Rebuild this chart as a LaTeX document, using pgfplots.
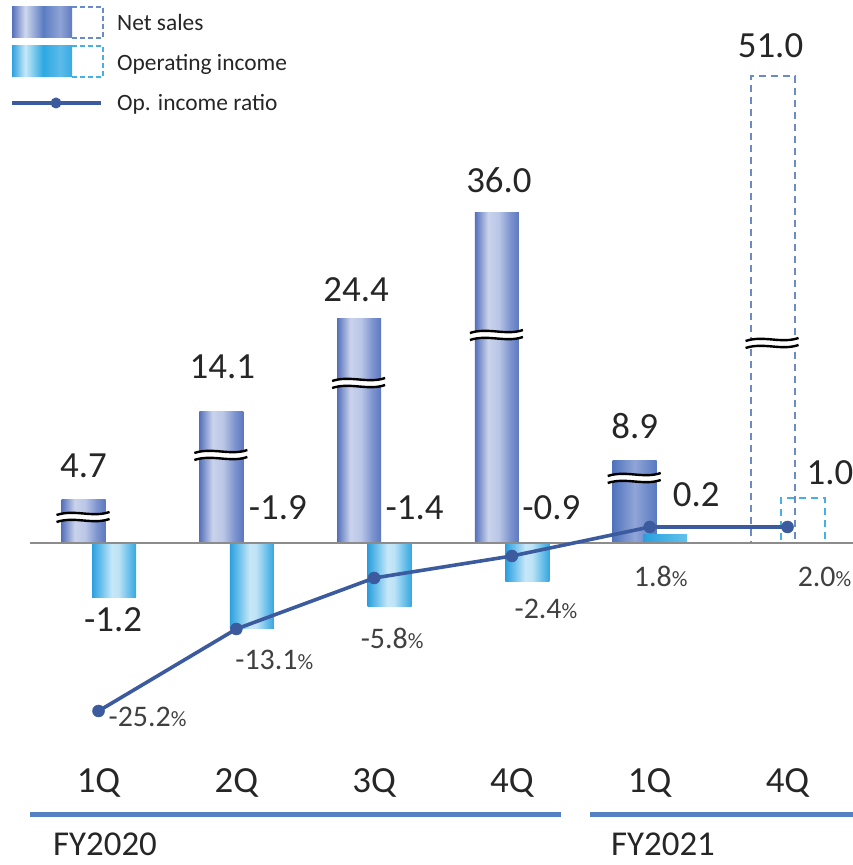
\documentclass[border=0pt]{standalone}
\usepackage{pgfplots}
\pgfplotsset{compat=1.18}
\usepackage{pgfplotstable}
\usepackage{fontspec}
\setmainfont{Carlito}

\definecolor{txt}{HTML}{262626}
\definecolor{rtxt}{HTML}{404040}
\definecolor{lineblue}{HTML}{3B5B9E}
\definecolor{nsdash}{HTML}{6A8BCB}
\definecolor{oidash}{HTML}{45B0E6}
\definecolor{axisgray}{HTML}{8C8C8C}
\definecolor{fyblue}{HTML}{5580C4}
\definecolor{nsa}{HTML}{5571BC}
\definecolor{nsb}{HTML}{CAD3EC}
\definecolor{nsc}{HTML}{BAC6E6}
\definecolor{nsd}{HTML}{7D94CF}
\definecolor{nse}{HTML}{5D78C0}
\definecolor{nsBa}{HTML}{5074BD}
\definecolor{nsBb}{HTML}{90A5D7}
\definecolor{nsBc}{HTML}{5878C0}
\definecolor{oia}{HTML}{2C9FDF}
\definecolor{oib}{HTML}{6BC0EC}
\definecolor{oic}{HTML}{C6E7F8}
\definecolor{oid}{HTML}{BEE3F6}
\definecolor{oie}{HTML}{66BDEA}
\definecolor{oif}{HTML}{35A6E1}
\definecolor{oiBa}{HTML}{29A0DE}
\definecolor{oiBb}{HTML}{62C2EC}
\definecolor{la}{HTML}{5470BC}
\definecolor{lb}{HTML}{CFD8EE}
\definecolor{lc}{HTML}{5B7CC2}
\definecolor{ld}{HTML}{8FA4D6}
\definecolor{le}{HTML}{5F7BC1}
\definecolor{ma}{HTML}{2EA0DF}
\definecolor{mb}{HTML}{C6E8F8}
\definecolor{mc}{HTML}{2DA8E2}
\definecolor{md}{HTML}{5BBBEA}
\definecolor{me}{HTML}{39A9E1}

\pgfdeclarehorizontalshading{nsshade}{100bp}{color(0bp)=(nsa); color(25bp)=(nsa); color(40bp)=(nsb); color(52bp)=(nsc); color(65bp)=(nsd); color(75bp)=(nse); color(100bp)=(nse)}
\pgfdeclarehorizontalshading{nsBshade}{100bp}{color(0bp)=(nsBa); color(25bp)=(nsBa); color(50bp)=(nsBb); color(75bp)=(nsBc); color(100bp)=(nsBc)}
\pgfdeclarehorizontalshading{oishade}{100bp}{color(0bp)=(oia); color(25bp)=(oia); color(35bp)=(oib); color(47.5bp)=(oic); color(55bp)=(oid); color(67.5bp)=(oie); color(75bp)=(oif); color(100bp)=(oif)}
\pgfdeclarehorizontalshading{oiBshade}{100bp}{color(0bp)=(oiBa); color(25bp)=(oiBa); color(75bp)=(oiBb); color(100bp)=(oiBb)}
\pgfdeclarehorizontalshading{nsleg}{100bp}{color(0bp)=(la); color(25bp)=(la); color(36bp)=(lb); color(51bp)=(lc); color(65bp)=(ld); color(75bp)=(le); color(100bp)=(le)}
\pgfdeclarehorizontalshading{oileg}{100bp}{color(0bp)=(ma); color(25bp)=(ma); color(36bp)=(mb); color(51bp)=(mc); color(65bp)=(md); color(75bp)=(me); color(100bp)=(me)}

% net sales (display heights in chart units, label, label offsets)
\pgfplotstableread{
x y label dx dy
0 43 4.7 0 22
1 131 14.1 1 33
2 224 24.4 -3 17
3 330 36.0 2 20
}\nssolid
\pgfplotstableread{
x y label dx dy
4 82 8.9 0 22
}\nsfy
\pgfplotstableread{
x y label dx dy
5 467 51.0 -2 18
}\nsdashed
% operating income
\pgfplotstableread{
x y label dx dy
0 -55 -1.2 -1 -34
1 -86 -1.9 26 109
2 -64 -1.4 25 87
3 -39 -0.9 24 62
}\oisolid
\pgfplotstableread{
x y label dx dy
4 8 0.2 31 28
}\oify
\pgfplotstableread{
x y label dx dy
5 45 1.0 27 13
}\oidashed
% operating income ratio
\pgfplotstableread{
x y label dx dy
0 -168 -25.2 49 -16
1 -86 -13.1 38 -41
2 -35 -5.8 18 -71
3 -13 -2.4 34 -63
4 16 1.8 11 -60
5 16 2.0 37 -60
}\ratiotab

\pgfplotsset{
  vallab/.style={nodes near coords, point meta=explicit symbolic,
    visualization depends on={\thisrow{dx}\as\dx},
    visualization depends on={\thisrow{dy}\as\dy},
    every node near coord/.append style={anchor=base, xshift=\dx bp, xshift=#1, yshift=\dy bp,
      font=\fontsize{37}{37}\selectfont, text=txt, inner sep=0pt, solid}},
  vallab/.default=0bp,
  nsbar/.style={ybar, bar width=44bp, bar shift=-15bp, draw=none},
  oibar/.style={ybar, bar width=44bp, bar shift=15.5bp, draw=none},
}

\newcommand{\brk}[2]{%
  \fill[white, shift={(axis cs:#1,#2)}, xshift=-15bp] (-27bp,-5bp) .. controls (-9bp,1bp) and (9bp,-8bp) .. (26bp,-2bp) -- (26bp,5bp) .. controls (9bp,-1bp) and (-9bp,8bp) .. (-27bp,2bp) -- cycle;
  \draw[black, line width=2.4bp, shift={(axis cs:#1,#2)}, xshift=-15bp] (-27bp,-5bp) .. controls (-9bp,1bp) and (9bp,-8bp) .. (26bp,-2bp);
  \draw[black, line width=2.4bp, shift={(axis cs:#1,#2)}, xshift=-15bp] (-27bp,2bp) .. controls (-9bp,8bp) and (9bp,-1bp) .. (26bp,5bp);
}

\begin{document}
\begin{tikzpicture}
\begin{axis}[
  scale only axis, x=137.8bp, y=1bp,
  xmin=-0.715, xmax=5.475, ymin=-322, ymax=543,
  axis line style={draw=none}, ytick=\empty,
  xtick={0,1,2,3,4,5}, xticklabels={1Q,2Q,3Q,4Q,1Q,4Q},
  major tick length=0pt,
  xticklabel style={anchor=base, yshift=72bp, font=\fontsize{37}{37}\selectfont, text=txt, inner sep=0pt},
  clip=false,
]
\coordinate (bl) at (rel axis cs:0,0);
\coordinate (tr) at (rel axis cs:1,1);

\pgfplotsinvokeforeach{0,1,2,3}{
  \addplot[nsbar, shading=nsshade, vallab=-15bp, restrict x to domain=#1:#1] table[x=x, y=y, meta=label] {\nssolid};
}
\addplot[nsbar, shading=nsBshade, vallab=-15bp] table[x=x, y=y, meta=label] {\nsfy};
\addplot[nsbar, draw=nsdash, fill=none, line width=2bp, dash pattern=on 7bp off 5bp, vallab=-15bp] table[x=x, y=y, meta=label] {\nsdashed};
\pgfplotsinvokeforeach{0,1,2,3}{
  \addplot[oibar, shading=oishade, vallab=15.5bp, restrict x to domain=#1:#1] table[x=x, y=y, meta=label] {\oisolid};
}
\addplot[oibar, shading=oiBshade, vallab=15.5bp] table[x=x, y=y, meta=label] {\oify};
\addplot[oibar, draw=oidash, fill=none, line width=2bp, dash pattern=on 7bp off 5bp, vallab=15.5bp] table[x=x, y=y, meta=label] {\oidashed};

\draw[axisgray, line width=1.5bp] (axis cs:-0.497,0) -- (axis cs:5.475,0);

\addplot[lineblue, line width=3.6bp, mark=*, mark size=6bp,
  mark options={solid, fill=lineblue, line width=0.5bp},
  nodes near coords={\pgfplotspointmeta{\fontsize{22}{22}\selectfont\%}},
  point meta=explicit symbolic,
  visualization depends on={\thisrow{dx}\as\dx},
  visualization depends on={\thisrow{dy}\as\dy},
  every node near coord/.append style={anchor=base, xshift=\dx bp, yshift=\dy bp,
      font=\fontsize{30}{30}\selectfont, text=rtxt, inner sep=0pt}
] table[x=x, y=y, meta=label] {\ratiotab};

\brk{0}{26}
\brk{1}{88}
\brk{2}{160}
\brk{3}{208}
\brk{4}{65}
\brk{5}{200}
\end{axis}

% legend and fiscal-year brackets, in picture units from the top-left corner
\begin{scope}[shift={(bl |- tr)}]
  \fill[shading=nsleg] (12bp,-7bp) rectangle (72bp,-38bp);
  \draw[nsdash, line width=1.5bp, dash pattern=on 5bp off 3bp] (72bp,-7bp) -- (103bp,-7bp) -- (103bp,-38bp) -- (72bp,-38bp);
  \fill[shading=oileg] (12bp,-46bp) rectangle (72bp,-77bp);
  \draw[oidash, line width=1.5bp, dash pattern=on 5bp off 3bp] (72bp,-46bp) -- (103bp,-46bp) -- (103bp,-77bp) -- (72bp,-77bp);
  \draw[lineblue, line width=3.6bp] (12bp,-103bp) -- (101bp,-103bp);
  \fill[lineblue] (56bp,-103bp) circle (5.5bp);
  \node[anchor=base west, inner sep=0pt, text=txt, font=\fontsize{23.5}{23.5}\selectfont] at (117bp,-30.5bp) {Net sales};
  \node[anchor=base west, inner sep=0pt, text=txt, font=\fontsize{23.5}{23.5}\selectfont] at (117bp,-70.5bp) {Operating income};
  \node[anchor=base west, inner sep=0pt, text=txt, font=\fontsize{23.5}{23.5}\selectfont] at (117bp,-110.5bp) {Op. income ratio};
  \draw[fyblue, line width=5bp] (30bp,-814.5bp) -- (561bp,-814.5bp);
  \draw[fyblue, line width=5bp] (590bp,-814.5bp) -- (853bp,-814.5bp);
  \node[anchor=base west, inner sep=0pt, text=txt, font=\fontsize{35}{35}\selectfont] at (53bp,-855bp) {FY2020};
  \node[anchor=base west, inner sep=0pt, text=txt, font=\fontsize{35}{35}\selectfont] at (611bp,-855bp) {FY2021};
\end{scope}
\pgfresetboundingbox
\path[use as bounding box] (bl) rectangle (tr);
\end{tikzpicture}
\end{document}
